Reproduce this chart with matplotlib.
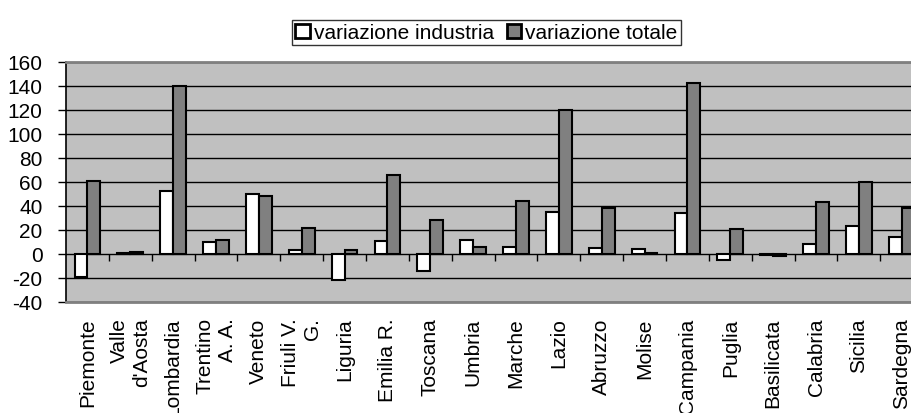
import matplotlib
matplotlib.use('Agg')
import matplotlib.pyplot as plt
import numpy as np

plt.rcParams['font.family'] = ['Liberation Sans', 'DejaVu Sans']
plt.rcParams['axes.unicode_minus'] = False

# regioni e valori
regioni = ['Piemonte', 'Valle\nd\'Aosta', 'Lombardia', 'Trentino\nA. A.', 'Veneto',
           'Friuli V.\nG.', 'Liguria', 'Emilia R.', 'Toscana', 'Umbria', 'Marche',
           'Lazio', 'Abruzzo', 'Molise', 'Campania', 'Puglia', 'Basilicata',
           'Calabria', 'Sicilia', 'Sardegna']
var_industria = [-19, 1, 52, 10, 50, 3, -22, 11, -14, 12, 6, 35, 5, 4, 34, -5, -1, 8, 23, 14]
var_totale = [61, 2, 140, 12, 48, 22, 3, 66, 28, 6, 44, 120, 38, 1, 142, 21, -1.5, 43, 60, 38]
yticks = [-40, -20, 0, 20, 40, 60, 80, 100, 120, 140, 160]

n = len(regioni)

fig = plt.figure(figsize=(9.11, 4.14), dpi=100)
# l'area del grafico esce a destra dall'immagine (come nell'originale)
cat_px = 42.86
ax = fig.add_axes([66/911, (414-303)/414, n*cat_px/911, 240.3/414])

x = np.arange(n)
w = 0.3
b1 = ax.bar(x - w/2, var_industria, w, color='white', edgecolor='black', linewidth=1.5,
            label='variazione industria', zorder=3)
b2 = ax.bar(x + w/2, var_totale, w, color='#808080', edgecolor='black', linewidth=1.5,
            label='variazione totale', zorder=3)

ax.set_facecolor('#C0C0C0')
ax.set_xlim(-0.5, n - 0.5)
ax.set_ylim(-40, 160)
ax.set_yticks(yticks)
ax.yaxis.grid(True, color='black', linewidth=1)
ax.set_axisbelow(True)

# tacche dell'asse categorie sulla linea dello zero
ax.vlines(np.arange(n - 1) + 0.5, -5.5, 0, color='black', linewidth=1, zorder=2)

ax.set_xticks(x)
ax.set_xticklabels(regioni, rotation=90, fontsize=15)
for t in ax.get_xticklabels():
    t.set_multialignment('right')
ax.tick_params(axis='x', length=0, pad=11)
ax.tick_params(axis='y', direction='out', length=6, width=1, labelsize=15, pad=11)

ax.spines['left'].set_color('black')
ax.spines['left'].set_linewidth(1.2)
ax.spines['top'].set_color('#808080')
ax.spines['top'].set_linewidth(2)
ax.spines['bottom'].set_color('#808080')
ax.spines['bottom'].set_linewidth(2)
ax.spines['right'].set_visible(False)

leg = fig.legend(handles=[b1, b2], loc='upper center', bbox_to_anchor=(486.5/911, (414-21)/414),
                 ncol=2, fontsize=15, frameon=True, fancybox=False, edgecolor='black',
                 handlelength=0.7, handleheight=0.7, handletextpad=0.2, columnspacing=0.6,
                 borderpad=0.15, borderaxespad=0)
leg.get_frame().set_linewidth(1)
for h in leg.legend_handles:
    h.set_linewidth(2)

fig.savefig('out.png', dpi=100)
